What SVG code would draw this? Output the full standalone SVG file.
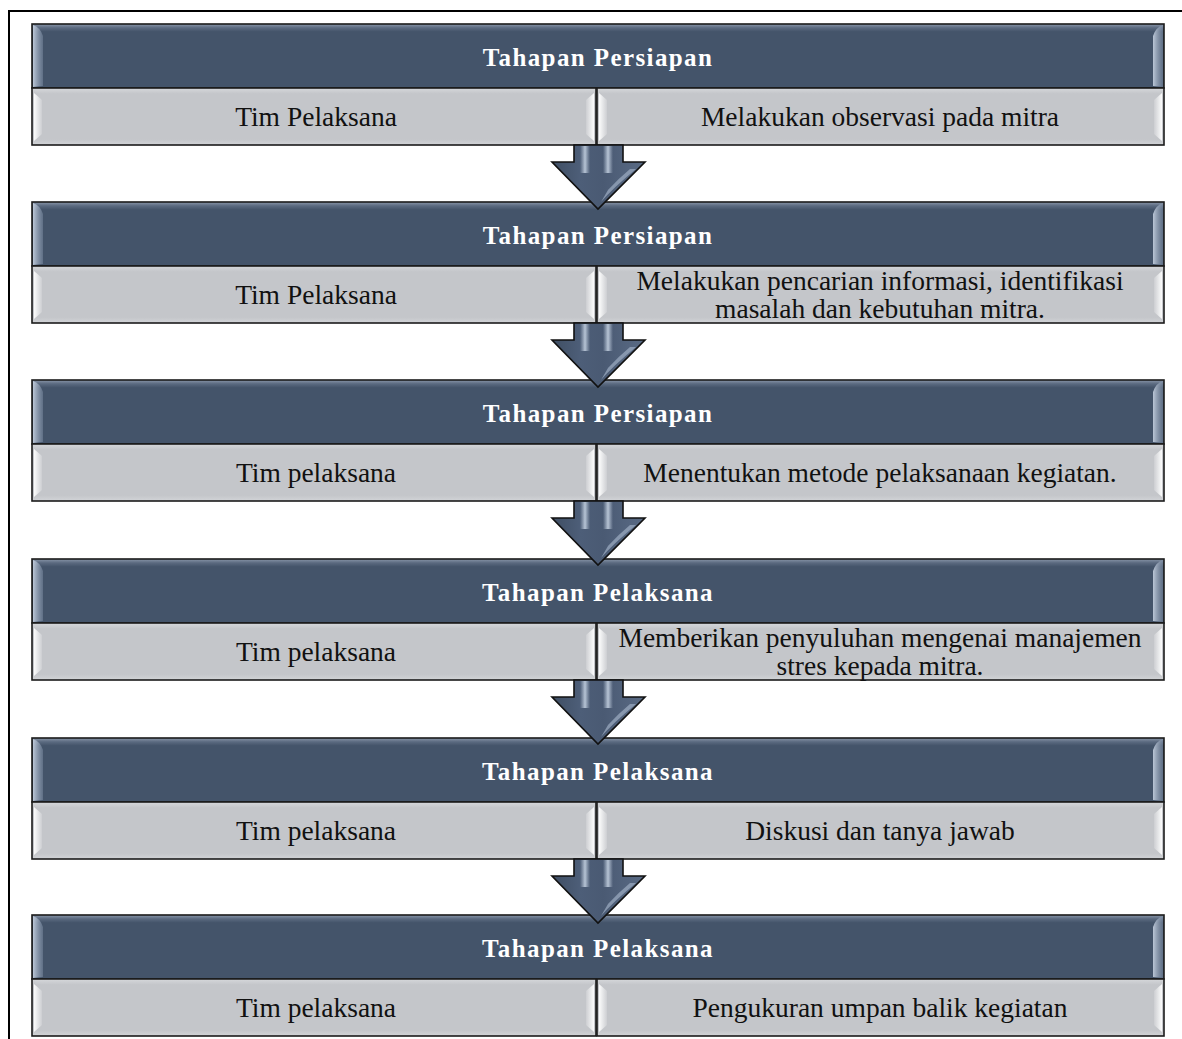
<svg xmlns="http://www.w3.org/2000/svg" xmlns:xlink="http://www.w3.org/1999/xlink" width="1182" height="1039" viewBox="0 0 1182 1039">
<style>
.hdr-t{font-family:"Liberation Serif","Times New Roman",serif;font-weight:bold;font-size:25px;letter-spacing:1.4px;fill:#ffffff;text-anchor:middle}
.cell-t{font-family:"Liberation Serif","Times New Roman",serif;font-size:27.5px;fill:#111111;text-anchor:middle}
.hdr{fill:url(#gHdr);stroke:#1b1b1b;stroke-width:1.6}
.cell{fill:url(#gCell);stroke:#1b1b1b;stroke-width:1.6}
.frame{fill:none;stroke:#000;stroke-width:2}
</style>
<defs>
<linearGradient id="gHdr" x1="0" y1="0" x2="0" y2="1">
<stop offset="0" stop-color="#8a97aa"/>
<stop offset="0.06" stop-color="#5b6a80"/>
<stop offset="0.12" stop-color="#44546a"/>
<stop offset="1" stop-color="#44546a"/>
</linearGradient>
<linearGradient id="gCell" x1="0" y1="0" x2="0" y2="1">
<stop offset="0" stop-color="#d6d8db"/>
<stop offset="0.1" stop-color="#c4c6ca"/>
<stop offset="0.9" stop-color="#c4c6ca"/>
<stop offset="1" stop-color="#d2d4d7"/>
</linearGradient>
<linearGradient id="gHiL" x1="0" y1="0" x2="1" y2="0">
<stop offset="0" stop-color="#ffffff" stop-opacity="0.95"/>
<stop offset="1" stop-color="#ffffff" stop-opacity="0.15"/>
</linearGradient>
<linearGradient id="gHiR" x1="1" y1="0" x2="0" y2="0">
<stop offset="0" stop-color="#ffffff" stop-opacity="0.95"/>
<stop offset="1" stop-color="#ffffff" stop-opacity="0.15"/>
</linearGradient>
<linearGradient id="gHdrHi" x1="0" y1="0" x2="1" y2="0">
<stop offset="0" stop-color="#c8d3e2" stop-opacity="0.9"/>
<stop offset="1" stop-color="#8b9bb2" stop-opacity="0.4"/>
</linearGradient>
<linearGradient id="gArrow" x1="0" y1="0" x2="1" y2="0">
<stop offset="0" stop-color="#3f4e63"/>
<stop offset="0.3" stop-color="#4d5e78"/>
<stop offset="0.55" stop-color="#4a5a73"/>
<stop offset="1" stop-color="#5a6b85"/>
</linearGradient>
<linearGradient id="gStripe" x1="0" y1="0" x2="1" y2="0">
<stop offset="0" stop-color="#b8c6d8" stop-opacity="0"/>
<stop offset="0.5" stop-color="#c3d0e0" stop-opacity="0.9"/>
<stop offset="1" stop-color="#b8c6d8" stop-opacity="0"/>
</linearGradient>
<g id="bevels">
<path d="M33,1 Q40,3 43,12 L43,62 L33,63 Z" fill="url(#gHdrHi)"/>
<path d="M1163,1 Q1156,3 1153,12 L1153,62 L1163,63 Z" fill="url(#gHdrHi)"/>
<path d="M34,69 L42,76 L42,110 L34,117 Z" fill="url(#gHiL)"/>
<path d="M594,69 L586,76 L586,110 L594,117 Z" fill="url(#gHiR)"/>
<path d="M599,69 L607,76 L607,110 L599,117 Z" fill="url(#gHiL)"/>
<path d="M1162,69 L1154,76 L1154,110 L1162,117 Z" fill="url(#gHiR)"/>
</g>
<g id="arrow">
<path d="M574,0 L623,0 L623,17 L645,17 L598,64 L552,17 L574,17 Z" fill="url(#gArrow)" stroke="#111" stroke-width="1.6" stroke-linejoin="miter"/>
<rect x="580" y="1" width="10" height="27" fill="url(#gStripe)"/>
<rect x="603" y="1" width="10" height="27" fill="url(#gStripe)"/>
<path d="M630,24 Q618,34 608,45 L601,57 Q613,43 636,24 Z" fill="#a4b4c9" opacity="0.65"/>
</g>
</defs>

<g id="frame">
<path class="frame" d="M9,1039 L9,11 L1182,11"/>
</g>

<g id="step1" transform="translate(0,24)">
<rect class="hdr" x="32" y="0" width="1132" height="64"/>
<rect class="cell" x="32" y="64" width="564" height="57"/>
<rect class="cell" x="597" y="64" width="567" height="57"/>
<use xlink:href="#bevels"/>
<text class="hdr-t" x="598" y="42">Tahapan Persiapan</text>
<text class="cell-t" x="316" y="102">Tim Pelaksana</text>
<text class="cell-t" x="880" y="102">Melakukan observasi pada mitra</text>
</g>

<g id="step2" transform="translate(0,202)">
<rect class="hdr" x="32" y="0" width="1132" height="64"/>
<rect class="cell" x="32" y="64" width="564" height="57"/>
<rect class="cell" x="597" y="64" width="567" height="57"/>
<use xlink:href="#bevels"/>
<text class="hdr-t" x="598" y="42">Tahapan Persiapan</text>
<text class="cell-t" x="316" y="102">Tim Pelaksana</text>
<text class="cell-t" x="880" y="88">Melakukan pencarian informasi, identifikasi</text>
<text class="cell-t" x="880" y="116">masalah dan kebutuhan mitra.</text>
</g>

<g id="step3" transform="translate(0,380)">
<rect class="hdr" x="32" y="0" width="1132" height="64"/>
<rect class="cell" x="32" y="64" width="564" height="57"/>
<rect class="cell" x="597" y="64" width="567" height="57"/>
<use xlink:href="#bevels"/>
<text class="hdr-t" x="598" y="42">Tahapan Persiapan</text>
<text class="cell-t" x="316" y="102">Tim pelaksana</text>
<text class="cell-t" x="880" y="102">Menentukan metode pelaksanaan kegiatan.</text>
</g>

<g id="step4" transform="translate(0,559)">
<rect class="hdr" x="32" y="0" width="1132" height="64"/>
<rect class="cell" x="32" y="64" width="564" height="57"/>
<rect class="cell" x="597" y="64" width="567" height="57"/>
<use xlink:href="#bevels"/>
<text class="hdr-t" x="598" y="42">Tahapan Pelaksana</text>
<text class="cell-t" x="316" y="102">Tim pelaksana</text>
<text class="cell-t" x="880" y="88">Memberikan penyuluhan mengenai manajemen</text>
<text class="cell-t" x="880" y="116">stres kepada mitra.</text>
</g>

<g id="step5" transform="translate(0,738)">
<rect class="hdr" x="32" y="0" width="1132" height="64"/>
<rect class="cell" x="32" y="64" width="564" height="57"/>
<rect class="cell" x="597" y="64" width="567" height="57"/>
<use xlink:href="#bevels"/>
<text class="hdr-t" x="598" y="42">Tahapan Pelaksana</text>
<text class="cell-t" x="316" y="102">Tim pelaksana</text>
<text class="cell-t" x="880" y="102">Diskusi dan tanya jawab</text>
</g>

<g id="step6" transform="translate(0,915)">
<rect class="hdr" x="32" y="0" width="1132" height="64"/>
<rect class="cell" x="32" y="64" width="564" height="57"/>
<rect class="cell" x="597" y="64" width="567" height="57"/>
<use xlink:href="#bevels"/>
<text class="hdr-t" x="598" y="42">Tahapan Pelaksana</text>
<text class="cell-t" x="316" y="102">Tim pelaksana</text>
<text class="cell-t" x="880" y="102">Pengukuran umpan balik kegiatan</text>
</g>

<g id="connectors">
<use xlink:href="#arrow" transform="translate(0,145)"/>
<use xlink:href="#arrow" transform="translate(0,323)"/>
<use xlink:href="#arrow" transform="translate(0,501)"/>
<use xlink:href="#arrow" transform="translate(0,680)"/>
<use xlink:href="#arrow" transform="translate(0,859)"/>
</g>
</svg>
